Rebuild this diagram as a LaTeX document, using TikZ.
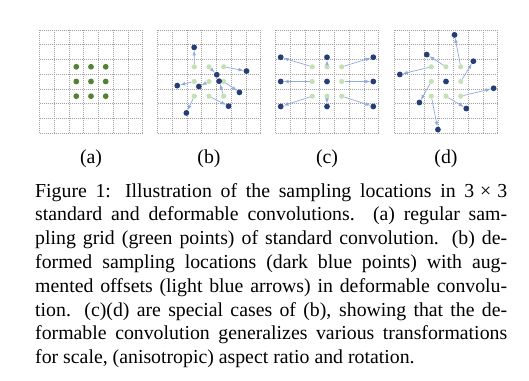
\documentclass[tikz,border=0pt]{standalone}
\usepackage{fontspec}
\setmainfont{Liberation Serif}
\usetikzlibrary{arrows}
\definecolor{rastergrau}{RGB}{160,160,160}
\definecolor{gruen}{RGB}{84,130,53}
\definecolor{hellgruen}{RGB}{197,224,180}
\definecolor{dunkelblau}{RGB}{38,62,120}
\definecolor{hellblau}{RGB}{143,170,220}

\begin{document}
\begin{tikzpicture}[x=1pt, y=1pt,
		>=latex,   %Voreinstellung für Pfeilspitzen
		raster/.style={draw=rastergrau, line width=0.5pt, dash pattern=on 1pt off 1pt},
		regpt/.style={circle, fill=gruen, inner sep=0pt, minimum size=5.8pt},
		hellpt/.style={circle, fill=hellgruen, inner sep=0pt, minimum size=5.2pt},
		dunkelpt/.style={circle, fill=dunkelblau, inner sep=0pt, minimum size=5.8pt},
		versatz/.style={->, draw=hellblau, line width=0.7pt},
		font=\fontsize{19.8}{23.8}\selectfont]
		\useasboundingbox (0,0) rectangle (529,380);
		%Raster zeichnen
		\foreach \px in {91,209,327,446}
		\foreach \i in {-3.5,-2.5,...,3.5} {
			\draw[raster, shift={(\px pt,298.5pt)}, x=14.7pt, y=14.7pt] (\i,-3.5) -- (\i,3.5);
			\draw[raster, shift={(\px pt,298.5pt)}, x=14.7pt, y=14.7pt] (-3.5,\i) -- (3.5,\i);
		}
		% (a) regulaeres Gitter
		\begin{scope}[shift={(91pt,298.5pt)}, x=14.7pt, y=14.7pt]
			\foreach \gx/\gy [count=\k] in {-1/1,0/1,1/1,-1/0,0/0,1/0,-1/-1,0/-1,1/-1}
			\node[regpt] (a\k) at (\gx,\gy) {};
		\end{scope}
		% (b) verformt
		\begin{scope}[shift={(209pt,298.5pt)}, x=14.7pt, y=14.7pt]
			\foreach \gx/\gy/\dx/\dy [count=\k] in {-1/1/-1.01/2.32, 0/1/0.53/0.46, 1/1/2.55/0.71,
				-1/0/-2.16/-0.28, 0/0/-0.69/-0.34, 1/0/2.07/-0.74,
				-1/-1/-1.54/-2.14, 0/-1/1.33/-1.68, 1/-1/0.69/0.02} {
				\node[hellpt] (bg\k) at (\gx,\gy) {};
				\node[dunkelpt] (bd\k) at (\dx,\dy) {};
				\draw[versatz] (bg\k) -- (bd\k);
			}
		\end{scope}
		% (c) Skalierung
		\begin{scope}[shift={(327pt,298.5pt)}, x=14.7pt, y=14.7pt]
			\node[hellpt] (cg0) at (0,0) {};
			\node[dunkelpt] (cd0) at (0,0) {};
			\foreach \gx/\gy/\dx/\dy [count=\k] in {-1/1/-3.15/1.65, 0/1/0/1.65, 1/1/3.15/1.65,
				-1/0/-3.15/0, 1/0/3.15/0,
				-1/-1/-3.15/-1.7, 0/-1/0/-1.7, 1/-1/3.15/-1.7} {
				\node[hellpt] (cg\k) at (\gx,\gy) {};
				\node[dunkelpt] (cd\k) at (\dx,\dy) {};
				\draw[versatz] (cg\k) -- (cd\k);
			}
		\end{scope}
		% (d) Rotation
		\begin{scope}[shift={(446pt,298.5pt)}, x=14.7pt, y=14.7pt]
			\node[hellpt] (dg0) at (0,0) {};
			\node[dunkelpt] (dd0) at (0,0) {};
			\foreach \gx/\gy/\dx/\dy [count=\k] in {-1/1/-3.14/0.48, 0/1/-1.31/1.83, 1/1/0.58/3.17,
				-1/0/-1.81/-1.43, 1/0/1.86/1.38,
				-1/-1/-0.55/-3.27, 0/-1/1.38/-1.84, 1/-1/3.24/-0.46} {
				\node[hellpt] (dg\k) at (\gx,\gy) {};
				\node[dunkelpt] (dd\k) at (\dx,\dy) {};
				\draw[versatz] (dg\k) -- (dd\k);
			}
		\end{scope}
		% Beschriftung
		\node (la) at (91,221.7) {(a)};
		\node (lb) at (209,221.7) {(b)};
		\node (lc) at (327,221.7) {(c)};
		\node (ld) at (446,221.7) {(d)};
		\node[anchor=north west, text width=472pt, align=justify, inner sep=0pt] (cap) at (35,197) {Figure 1: Illustration of the sampling locations in 3\hspace{0.3em}×\hspace{0.3em}3\linebreak
			standard and deformable convolutions.  (a) regular sam-\linebreak
			pling grid (green points) of standard convolution. (b) de-\linebreak
			formed sampling locations (dark blue points) with aug-\linebreak
			mented offsets (light blue arrows) in deformable convolu-\linebreak
			tion. (c)(d) are special cases of (b), showing that the de-\linebreak
			formable convolution generalizes various transformations\linebreak
			for scale, (anisotropic) aspect ratio and rotation.};
	\end{tikzpicture}
\end{document}
